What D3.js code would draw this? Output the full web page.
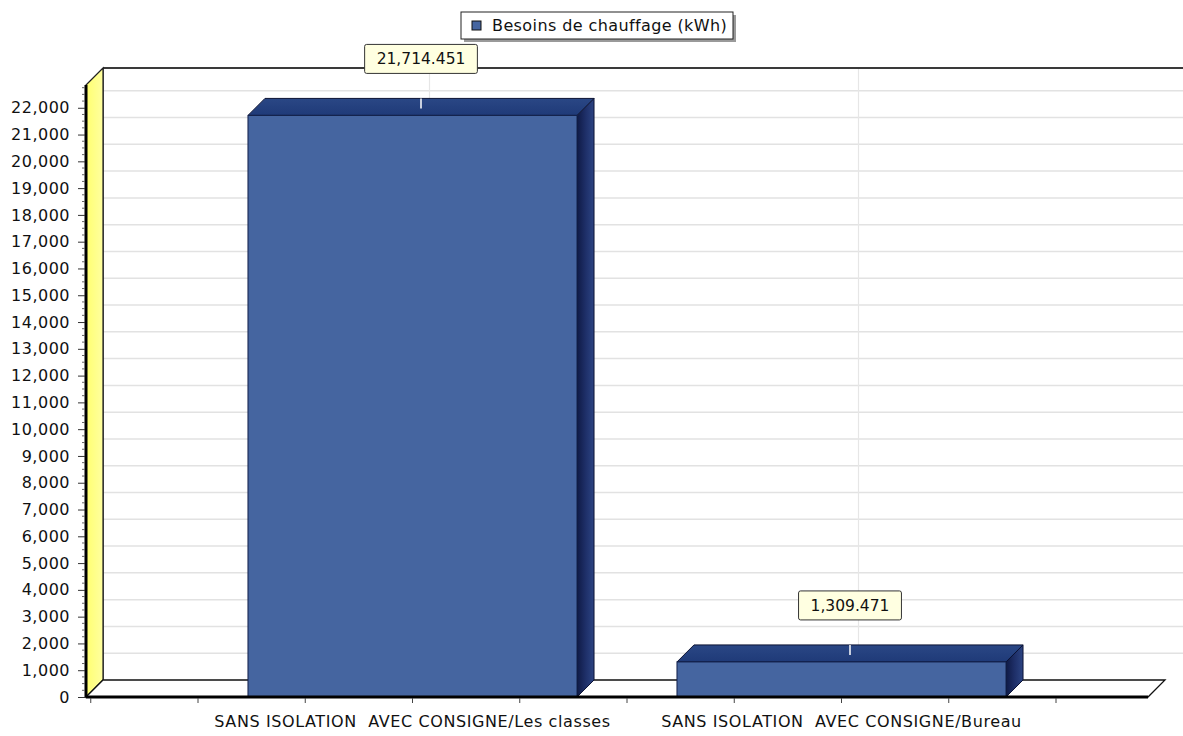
<!DOCTYPE html>
<html>
<head>
<meta charset="utf-8">
<script src="https://cdn.jsdelivr.net/npm/d3@7/dist/d3.min.js"></script>
<style>
html,body{margin:0;padding:0;background:#fff;}
svg{display:block;}
text{font-family:"DejaVu Sans",sans-serif;fill:#111;}
</style>
</head>
<body>
<svg id="chart" width="1183" height="736"></svg>
<script>
const categories = ["SANS ISOLATION  AVEC CONSIGNE/Les classes", "SANS ISOLATION  AVEC CONSIGNE/Bureau"];
const values = [21714.451, 1309.471];
const valueLabels = ["21,714.451", "1,309.471"];
const seriesName = "Besoins de chauffage (kWh)";
const yTicks = d3.range(0, 22001, 1000);
const yMax = 22850;

(function () {
const svg = d3.select("#chart");
const W = 1183, H = 736;
const pLeft = 86, pRight = 1148, pTop = 85, pBottom = 697;
const dx = 17, dy = -17;

const y = d3.scaleLinear().domain([0, yMax]).range([pBottom, pTop]);
const x = d3.scaleBand().domain(categories).range([198, 1056]).padding(0);
const barW = x.bandwidth() * 0.767;

const defs = svg.append("defs");
const gSide = defs.append("linearGradient").attr("id","gSide").attr("x1","0").attr("x2","1").attr("y1","0").attr("y2","0");
gSide.append("stop").attr("offset","0").attr("stop-color","#0f1a45");
gSide.append("stop").attr("offset","0.5").attr("stop-color","#1e2f68");
gSide.append("stop").attr("offset","1").attr("stop-color","#2c4483");
const gTop = defs.append("linearGradient").attr("id","gTop").attr("x1","0").attr("x2","0").attr("y1","0").attr("y2","1");
gTop.append("stop").attr("offset","0").attr("stop-color","#2a4785");
gTop.append("stop").attr("offset","1").attr("stop-color","#1f3a78");
const gWall = defs.append("linearGradient").attr("id","gWall").attr("x1","0").attr("x2","1").attr("y1","0").attr("y2","0");
gWall.append("stop").attr("offset","0").attr("stop-color","#ffff70");
gWall.append("stop").attr("offset","1").attr("stop-color","#ffffa0");

// back wall gridlines (horizontal)
svg.append("g").selectAll("line").data(yTicks.filter(d => d > 0)).join("line")
  .attr("x1", pLeft + dx).attr("x2", W)
  .attr("y1", d => y(d) + dy).attr("y2", d => y(d) + dy)
  .attr("stroke", "#e2e2e2").attr("stroke-width", 1.5);

// back wall vertical gridlines
svg.append("g").selectAll("line").data(categories).join("line")
  .attr("x1", d => x(d) + x.bandwidth()/2 + dx).attr("x2", d => x(d) + x.bandwidth()/2 + dx)
  .attr("y1", pTop + dy).attr("y2", pBottom + dy)
  .attr("stroke", "#e6e6e6").attr("stroke-width", 1.2);

// back wall top edge
svg.append("line").attr("x1", pLeft + dx).attr("x2", W).attr("y1", pTop + dy).attr("y2", pTop + dy)
  .attr("stroke", "#3a3a3a").attr("stroke-width", 2);
svg.append("line").attr("x1", pLeft + dx).attr("x2", pLeft + dx).attr("y1", pTop + dy).attr("y2", pBottom + dy)
  .attr("stroke", "#222").attr("stroke-width", 1.5);

// left side wall (yellow)
svg.append("path")
  .attr("d", `M${pLeft},${pTop} L${pLeft+dx},${pTop+dy} L${pLeft+dx},${pBottom+dy} L${pLeft},${pBottom} Z`)
  .attr("fill", "url(#gWall)").attr("stroke", "#222").attr("stroke-width", 1.2);

// floor
svg.append("path")
  .attr("d", `M${pLeft},${pBottom} L${pLeft+dx},${pBottom+dy} L${pRight+dx},${pBottom+dy} L${pRight},${pBottom} Z`)
  .attr("fill", "#fff").attr("stroke", "#111").attr("stroke-width", 1.3);

// bars
const bars = svg.append("g");
categories.forEach((c, i) => {
  const cx = x(c) + x.bandwidth()/2;
  const x0 = cx - barW/2, x1 = cx + barW/2;
  const yt = y(values[i]), yb = y(0);
  bars.append("path")
    .attr("d", `M${x1},${yt} L${x1+dx},${yt+dy} L${x1+dx},${yb+dy} L${x1},${yb} Z`)
    .attr("fill", "url(#gSide)").attr("stroke", "#0b1233").attr("stroke-width", 1);
  bars.append("path")
    .attr("d", `M${x0},${yt} L${x0+dx},${yt+dy} L${x1+dx},${yt+dy} L${x1},${yt} Z`)
    .attr("fill", "url(#gTop)").attr("stroke", "#0b1233").attr("stroke-width", 1);
  bars.append("rect")
    .attr("x", x0).attr("y", yt).attr("width", barW).attr("height", yb - yt)
    .attr("fill", "#4565a0").attr("stroke", "#12204a").attr("stroke-width", 1);
  bars.append("line")
    .attr("x1", cx + dx/2).attr("x2", cx + dx/2)
    .attr("y1", yt + dy).attr("y2", yt + dy + 10)
    .attr("stroke", "#fff").attr("stroke-width", 1.5);
});

// front axis lines
svg.append("line").attr("x1", pLeft).attr("x2", pLeft).attr("y1", pTop).attr("y2", pBottom)
  .attr("stroke", "#000").attr("stroke-width", 3);
svg.append("line").attr("x1", pLeft).attr("x2", pRight).attr("y1", pBottom).attr("y2", pBottom)
  .attr("stroke", "#000").attr("stroke-width", 3);

// y axis
const yAxis = d3.axisLeft(y).tickValues(yTicks).tickSize(7).tickPadding(8)
  .tickFormat(d3.format(","));
const gy = svg.append("g").attr("transform", `translate(${pLeft - 1},0)`).call(yAxis);
gy.select(".domain").remove();
gy.selectAll(".tick line").attr("stroke", "#333");
gy.selectAll(".tick text").style("font-family", "DejaVu Sans").style("font-size", "16px")
  .style("letter-spacing", "0.5px").attr("fill", "#111");
svg.append("g").selectAll("line").data(d3.range(250, 22800, 250).filter(d => d % 1000 !== 0)).join("line")
  .attr("x1", pLeft - 4).attr("x2", pLeft - 1).attr("y1", d => y(d)).attr("y2", d => y(d))
  .attr("stroke", "#666").attr("stroke-width", 1);

// x axis ticks
const xTickVals = d3.range(-3, 8).map(k => x(categories[0]) + x.bandwidth()/2 + k * x.bandwidth()/4);
svg.append("g").selectAll("line").data(xTickVals.filter(v => v >= pLeft && v <= pRight + 2)).join("line")
  .attr("x1", d => d).attr("x2", d => d).attr("y1", pBottom + 1).attr("y2", pBottom + 6)
  .attr("stroke", "#444").attr("stroke-width", 1);

// x labels
svg.append("g").selectAll("text").data(categories).join("text")
  .attr("x", d => x(d) + x.bandwidth()/2)
  .attr("y", 727)
  .attr("text-anchor", "middle")
  .style("font-size", "16px")
  .style("letter-spacing", "0.6px")
  .style("white-space", "pre")
  .attr("xml:space", "preserve")
  .text(d => d);

// value labels
categories.forEach((c, i) => {
  const cx = x(c) + x.bandwidth()/2 + dx/2;
  const by = y(values[i]) + dy - 25;
  const g = svg.append("g");
  const t = g.append("text").attr("x", cx).attr("y", by - 9).attr("text-anchor", "middle")
    .style("font-size", "15.5px").text(valueLabels[i]);
  const w = t.node().getComputedTextLength() + 24;
  g.insert("rect", "text").attr("x", cx - w/2).attr("y", by - 29).attr("width", w).attr("height", 29)
    .attr("rx", 2).attr("fill", "#ffffe1").attr("stroke", "#333").attr("stroke-width", 1);
});

// legend
const lg = svg.append("g");
const lx = 461, ly = 12, lw = 272, lh = 27;
lg.append("rect").attr("x", lx + 3).attr("y", ly + 3).attr("width", lw).attr("height", lh).attr("fill", "#9a9a9a");
lg.append("rect").attr("x", lx).attr("y", ly).attr("width", lw).attr("height", lh).attr("fill", "#fff").attr("stroke", "#222").attr("stroke-width", 1);
lg.append("rect").attr("x", lx + 11).attr("y", ly + 9).attr("width", 9).attr("height", 9)
  .attr("fill", "#4565a0").attr("stroke", "#111").attr("stroke-width", 1);
lg.append("text").attr("x", lx + 31).attr("y", ly + 19).style("font-size", "16px")
  .style("letter-spacing", "0.4px").text(seriesName);
})();
</script>
</body>
</html>
